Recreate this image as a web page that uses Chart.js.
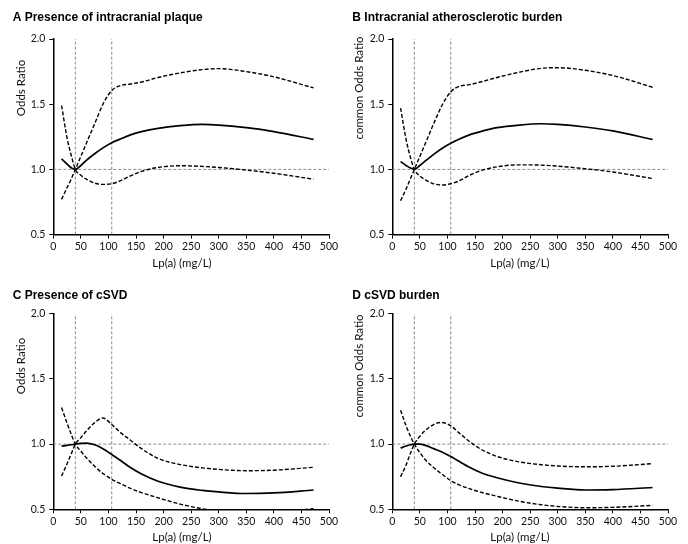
<!DOCTYPE html>
<html>
<head>
<meta charset="utf-8">
<script src="https://cdn.jsdelivr.net/npm/chart.js@4.4.0/dist/chart.umd.min.js"></script>
<style>
  html, body { margin: 0; padding: 0; background: #fff; }
  #grid { position: relative; width: 688px; height: 544px; }
  .cell { position: absolute; width: 344px; height: 272px; }
</style>
</head>
<body>
<div id="grid">
  <div class="cell" style="left:0;top:0"><canvas id="chartA" width="344" height="272"></canvas></div>
  <div class="cell" style="left:344px;top:0"><canvas id="chartB" width="344" height="272"></canvas></div>
  <div class="cell" style="left:0;top:272px"><canvas id="chartC" width="344" height="272"></canvas></div>
  <div class="cell" style="left:344px;top:272px"><canvas id="chartD" width="344" height="272"></canvas></div>
</div>
<script>
const LPA = [15, 25, 33, 40, 50, 60, 75, 90, 106, 120, 140, 160, 190, 230, 270, 300, 350, 400, 472];
const X_TICKS = [0, 50, 100, 150, 200, 250, 300, 350, 400, 450, 500];
const Y_TICKS = [0.5, 1.0, 1.5, 2.0];
// reference lines (dashed grey)
const REF_LPA = [40, 106];
const REF_OR = 1.0;

// A Presence of intracranial plaque
const orA    = [1.08, 1.04, 1.01, 1.0, 1.03, 1.07, 1.12, 1.165, 1.205, 1.23, 1.265, 1.29, 1.315, 1.335, 1.345, 1.34, 1.32, 1.29, 1.23];
const upperA = [0.77, 0.86, 0.93, 1.0, 1.10, 1.20, 1.35, 1.50, 1.605, 1.64, 1.655, 1.67, 1.705, 1.74, 1.765, 1.773, 1.75, 1.71, 1.625];
const lowerA = [1.49, 1.24, 1.10, 1.0, 0.955, 0.925, 0.895, 0.885, 0.89, 0.91, 0.95, 0.985, 1.015, 1.028, 1.023, 1.015, 0.995, 0.97, 0.925];

// B Intracranial atherosclerotic burden
const orB    = [1.06, 1.03, 1.01, 1.0, 1.03, 1.065, 1.115, 1.16, 1.2, 1.23, 1.265, 1.29, 1.32, 1.34, 1.35, 1.345, 1.325, 1.295, 1.23];
const upperB = [0.76, 0.85, 0.93, 1.0, 1.10, 1.20, 1.35, 1.49, 1.595, 1.635, 1.65, 1.67, 1.705, 1.745, 1.775, 1.78, 1.76, 1.72, 1.63];
const lowerB = [1.47, 1.23, 1.09, 1.0, 0.95, 0.92, 0.89, 0.88, 0.89, 0.91, 0.955, 0.99, 1.02, 1.035, 1.033, 1.025, 1.005, 0.98, 0.93];

// C Presence of cSVD
const orC    = [0.985, 0.99, 0.995, 1.0, 1.005, 1.007, 0.995, 0.965, 0.92, 0.88, 0.82, 0.77, 0.715, 0.67, 0.645, 0.633, 0.621, 0.626, 0.648];
const upperC = [0.755, 0.85, 0.93, 1.0, 1.05, 1.10, 1.165, 1.2, 1.15, 1.095, 1.03, 0.965, 0.89, 0.843, 0.818, 0.806, 0.796, 0.80, 0.822];
const lowerC = [1.28, 1.16, 1.07, 1.0, 0.945, 0.895, 0.83, 0.775, 0.73, 0.70, 0.66, 0.628, 0.588, 0.54, 0.504, 0.486, 0.47, 0.475, 0.505];

// D cSVD burden
const orD    = [0.97, 0.985, 0.995, 1.0, 1.0, 0.99, 0.965, 0.94, 0.905, 0.87, 0.822, 0.782, 0.742, 0.702, 0.675, 0.662, 0.648, 0.651, 0.667];
const upperD = [0.75, 0.84, 0.93, 1.0, 1.06, 1.105, 1.15, 1.166, 1.14, 1.09, 1.02, 0.962, 0.905, 0.864, 0.842, 0.832, 0.826, 0.83, 0.85];
const lowerD = [1.26, 1.14, 1.06, 1.0, 0.935, 0.88, 0.82, 0.77, 0.72, 0.69, 0.658, 0.632, 0.6, 0.562, 0.535, 0.522, 0.512, 0.515, 0.53];

const PANEL_TITLES = ['A Presence of intracranial plaque', 'B Intracranial atherosclerotic burden',
                      'C Presence of cSVD', 'D cSVD burden'];
const Y_TITLES = ['Odds Ratio', 'common Odds Ratio', 'Odds Ratio', 'common Odds Ratio'];
const X_TITLE = 'Lp(a) (mg/L)';

// layout of each cell (pixels inside a 344x272 cell)
const COLS = [
  { padL: 12.7, left: 53.3, right: 329, yTitleX: 21.7, xTitleX: 182 },
  { padL: 8.3,  left: 48.3, right: 324, yTitleX: 15,   xTitleX: 176 }
];
const ROWS = [
  { titlePadTop: 10.1, titlePadBottom: 14.5, bottom: 234.6, xTitleY: 263.5, yTitleY: 88 },
  { titlePadTop: 16.1, titlePadBottom: 11.2, bottom: 237.3, xTitleY: 265,   yTitleY: 94 }
];

const TICK_FONT = { family: 'Lato', size: 10.5 };
const TEXT_COLOR = '#111';

const pts = (ys) => LPA.map((x, i) => ({ x: x, y: ys[i] }));

// axis titles drawn at the spots they sit in the original figure
const axisTitles = {
  id: 'axisTitles',
  afterDraw(chart, args, opts) {
    const ctx = chart.ctx;
    ctx.save();
    ctx.fillStyle = TEXT_COLOR;
    ctx.font = '11.5px Lato';
    ctx.textAlign = 'center';
    ctx.textBaseline = 'middle';
    ctx.fillText(opts.xText, opts.xX, opts.xY);
    ctx.translate(opts.yX, opts.yY);
    ctx.rotate(-Math.PI / 2);
    ctx.fillText(opts.yText, 0, 0);
    ctx.restore();
  }
};

function buildChart(id, idx, or, upper, lower) {
  const col = COLS[idx % 2];
  const row = ROWS[Math.floor(idx / 2)];
  const yMin = Y_TICKS[0], yMax = Y_TICKS[Y_TICKS.length - 1];
  const xMin = X_TICKS[0], xMax = X_TICKS[X_TICKS.length - 1];

  const curve = (label, ys, dashed) => ({
    label: label,
    data: pts(ys),
    borderColor: '#000',
    borderWidth: dashed ? 1.4 : 1.7,
    borderDash: dashed ? [4, 2] : [],
    cubicInterpolationMode: 'monotone',
    pointRadius: 0,
    fill: false
  });
  const ref = (label, data) => ({
    label: label,
    data: data,
    borderColor: '#8a8a8a',
    borderWidth: 1,
    borderDash: [3, 2],
    pointRadius: 0,
    tension: 0,
    fill: false
  });

  return new Chart(document.getElementById(id), {
    type: 'line',
    data: {
      datasets: [
        curve('OR', or, false),
        curve('upper 95% CI', upper, true),
        curve('lower 95% CI', lower, true),
        ref('ref OR', [{ x: xMin, y: REF_OR }, { x: xMax, y: REF_OR }]),
        ref('ref 1', [{ x: REF_LPA[0], y: yMin }, { x: REF_LPA[0], y: yMax }]),
        ref('ref 2', [{ x: REF_LPA[1], y: yMin }, { x: REF_LPA[1], y: yMax }])
      ]
    },
    options: {
      responsive: false,
      animation: false,
      layout: { padding: { left: col.padL, right: 344 - col.right, top: 0, bottom: 0 } },
      scales: {
        x: {
          type: 'linear',
          min: xMin,
          max: xMax,
          afterBuildTicks: (s) => { s.ticks = X_TICKS.map(v => ({ value: v })); },
          afterFit: (s) => { s.height = 272 - row.bottom; },
          ticks: { font: TICK_FONT, color: TEXT_COLOR, padding: 2, maxRotation: 0, autoSkip: false },
          grid: { drawOnChartArea: false, drawTicks: true, tickLength: 4, color: '#000' },
          border: { color: '#000', width: 1.5 }
        },
        y: {
          type: 'linear',
          min: yMin,
          max: yMax,
          afterBuildTicks: (s) => { s.ticks = Y_TICKS.map(v => ({ value: v })); },
          afterFit: (s) => { s.width = col.left - col.padL; },
          ticks: { font: TICK_FONT, color: TEXT_COLOR, padding: 4, callback: (v) => v.toFixed(1) },
          grid: { drawOnChartArea: false, drawTicks: true, tickLength: 4, color: '#000' },
          border: { color: '#000', width: 1.5 }
        }
      },
      plugins: {
        legend: { display: false },
        tooltip: { enabled: false },
        title: {
          display: true,
          text: PANEL_TITLES[idx],
          align: 'start',
          color: '#000',
          font: { family: 'Liberation Sans', size: 12, weight: 'bold', lineHeight: 1.2 },
          padding: { top: row.titlePadTop, bottom: row.titlePadBottom }
        },
        axisTitles: {
          xText: X_TITLE, xX: col.xTitleX, xY: row.xTitleY,
          yText: Y_TITLES[idx], yX: col.yTitleX, yY: row.yTitleY
        }
      }
    },
    plugins: [axisTitles]
  });
}

buildChart('chartA', 0, orA, upperA, lowerA);
buildChart('chartB', 1, orB, upperB, lowerB);
buildChart('chartC', 2, orC, upperC, lowerC);
buildChart('chartD', 3, orD, upperD, lowerD);
</script>
</body>
</html>
